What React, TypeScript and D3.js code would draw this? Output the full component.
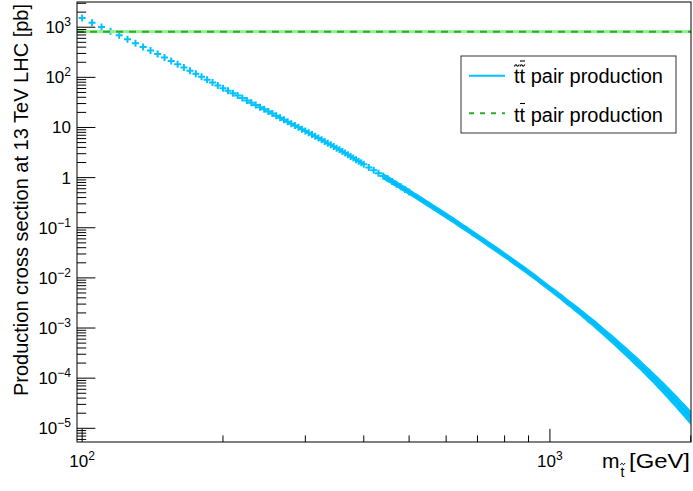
import React, { useEffect } from 'react'
import * as d3 from 'd3'

// stop pair production cross section at 13 TeV [pb]
const STOP_MASS_A = [100, 105, 110, 115, 120, 125, 130, 135, 140, 145, 150, 155, 160, 165, 170, 175, 180, 185, 190, 195,
  200, 205, 210, 215, 220, 225, 230, 235, 240, 245, 250, 255, 260, 265, 270, 275, 280, 285, 290, 295,
  300, 305, 310, 315, 320, 325, 330, 335, 340, 345, 350, 355, 360, 365, 370, 375, 380, 385, 390, 395, 400]
const STOP_XSEC_A = [1521, 1233, 1014, 833, 690, 575, 481, 405, 343, 291, 248, 212, 183, 157, 136, 118, 103, 89.7, 78.5, 68.9,
  60.7, 54.1, 48.3, 43.2, 38.7, 34.7, 31.2, 28.2, 25.4, 23.0, 20.8, 18.9, 17.2, 15.6, 14.3, 13.0, 11.9, 10.9, 10.06, 9.26,
  8.52, 7.85, 7.24, 6.68, 6.17, 5.70, 5.27, 4.87, 4.51, 4.17, 3.86, 3.58, 3.32, 3.08, 2.85, 2.65, 2.46, 2.28, 2.12, 1.97, 1.84]

const STOP_MASS_B = [410, 420, 430, 440, 450, 460, 470, 480, 490, 500, 510, 520, 530, 540, 550,
  560, 570, 580, 590, 600, 610, 620, 630, 640, 650, 660, 670, 680, 690, 700]
const STOP_XSEC_B = [1.60, 1.397, 1.223, 1.073, 0.944, 0.833, 0.737, 0.654, 0.581, 0.519, 0.461, 0.412, 0.368, 0.329, 0.295,
  0.264, 0.238, 0.214, 0.193, 0.175, 0.158, 0.143, 0.129, 0.117, 0.106, 0.0968, 0.0881, 0.0803, 0.0733, 0.0669]

const STOP_MASS_C = [725, 750, 775, 800, 825, 850, 875, 900, 925, 950, 975, 1000, 1025, 1050, 1075, 1100, 1125, 1150, 1175, 1200,
  1225, 1250, 1275, 1300, 1325, 1350, 1375, 1400, 1425, 1450, 1475, 1500, 1525, 1550, 1575, 1600,
  1625, 1650, 1675, 1700, 1725, 1750, 1775, 1800, 1825, 1850, 1875, 1900, 1925, 1950, 1975, 2000]
const STOP_XSEC_C = [0.0537, 0.0431, 0.0349, 0.0283, 0.0232, 0.0190, 0.0156, 0.0129, 0.0107, 0.00884, 0.00737, 0.00615,
  0.00517, 0.00435, 0.00366, 0.00307, 0.00261, 0.00222, 0.00188, 0.00160,
  0.00137, 0.00117, 0.000996, 0.000850, 0.000730, 0.000627, 0.000538, 0.000462, 0.000399, 0.000344, 0.000297, 0.000256,
  0.000222, 0.000193, 0.000167, 0.000145, 0.000126, 0.000110, 0.0000953, 0.0000830, 0.0000724, 0.0000631, 0.0000550,
  0.0000480, 0.0000419, 0.0000366, 0.0000320, 0.0000280, 0.0000245, 0.0000215, 0.0000188, 0.0000165]

// relative error bar size vs mass
const STOP_UNC_MASS = [100, 1000, 1600, 2000]
const STOP_UNC_REL = [0, 0, 0.1, 0.19]

// ttbar cross section [pb] with band
const TTBAR_XSEC = 815
const TTBAR_BAND = [760, 875]

const X_DOMAIN = [97.5, 2002.5]
const Y_DOMAIN = [5.33e-6, 3183]
const X_MAJOR = [100, 1000]
const X_MAJOR_EXP = ['2', '3']
const X_MINOR = [200, 300, 400, 500, 600, 700, 800, 900, 2000]
const Y_MAJOR = [1e-5, 1e-4, 1e-3, 1e-2, 1e-1, 1, 10, 100, 1000]
const Y_MAJOR_LABEL = [['10', '−5'], ['10', '−4'], ['10', '−3'], ['10', '−2'], ['10', '−1'], ['1', ''], ['10', ''], ['10', '2'], ['10', '3']]

const W = 693
const H = 491
const FRAME = { left: 77, right: 691, top: 2, bottom: 442 }
const FONT = '"Liberation Sans", Arial, Helvetica, sans-serif'
const BLUE = '#00c2ff'
const GREEN = '#2aae2a'
const GREEN_BAND = '#94ee94'
const MARKER_HALF = 3.1

function tilde(cx: number, cy: number, w = 5) {
  const h = w / 2
  return `M${cx - h},${cy + 0.9} C${cx - h * 0.5},${cy - 1.3} ${cx - h * 0.2},${cy - 1.1} ${cx},${cy} S${cx + h * 0.5},${cy + 1.3} ${cx + h},${cy - 0.9}`
}

type Pt = { m: number, s: number, e: number }

export default function App() {
  useEffect(() => { document.body.style.margin = '0' }, [])

  const x = d3.scaleLog().domain(X_DOMAIN).range([FRAME.left, FRAME.right])
  const y = d3.scaleLog().domain(Y_DOMAIN).range([FRAME.bottom, FRAME.top])
  const unc = d3.scaleLinear().domain(STOP_UNC_MASS).range(STOP_UNC_REL).clamp(true)

  const mass = [...STOP_MASS_A, ...STOP_MASS_B, ...STOP_MASS_C]
  const xsec = [...STOP_XSEC_A, ...STOP_XSEC_B, ...STOP_XSEC_C]
  const pts: Pt[] = mass.map((m, i) => ({ m, s: xsec[i], e: unc(m) }))

  // separate (+) markers where they are resolved
  let crossPath = ''
  pts.filter(p => p.m <= 500).forEach(p => {
    const px = x(p.m), py = y(p.s)
    crossPath += `M${px - 3.5},${py}H${px + 3.5}M${px},${py - 3.5}V${py + 3.5}`
  })
  // dense region: markers + error bars merge into a band
  const dense = pts.filter(p => p.m >= 440)
  const band = d3.area<Pt>()
    .x(d => x(d.m))
    .y0(d => y(d.s * (1 - d.e)) + MARKER_HALF)
    .y1(d => y(d.s * (1 + d.e)) - MARKER_HALF)
    .curve(d3.curveMonotoneX)(dense)
  const centerLine = d3.line<Pt>().x(d => x(d.m)).y(d => y(d.s)).curve(d3.curveMonotoneX)(pts.filter(p => p.m >= 450))

  const yMinor: number[] = []
  for (let d = -6; d <= 3; d++) {
    for (let k = 2; k <= 9; k++) {
      const v = k * Math.pow(10, d)
      if (v > Y_DOMAIN[0] && v < Y_DOMAIN[1]) yMinor.push(v)
    }
  }

  return (
    <div style={{ position: 'absolute', left: 0, top: 0 }}>
      <svg width={W} height={H} style={{ display: 'block', background: '#fff' }} fontFamily={FONT}>
        <defs>
          <clipPath id="frame-clip">
            <rect x={FRAME.left} y={FRAME.top} width={FRAME.right - FRAME.left} height={FRAME.bottom - FRAME.top} />
          </clipPath>
        </defs>

        <g clipPath="url(#frame-clip)">
          <path d={band || ''} fill={BLUE} stroke="none" />
          <path d={crossPath} stroke={BLUE} strokeWidth={2} fill="none" />
          <path d={centerLine || ''} stroke="#0a9de0" strokeWidth={1} fill="none" opacity={0.5} />

          {/* ttbar */}
          <rect x={FRAME.left} width={FRAME.right - FRAME.left}
            y={y(TTBAR_BAND[1])} height={y(TTBAR_BAND[0]) - y(TTBAR_BAND[1])} fill={GREEN_BAND} />
          <line x1={FRAME.left} x2={FRAME.right} y1={y(TTBAR_XSEC)} y2={y(TTBAR_XSEC)}
            stroke={GREEN} strokeWidth={2} strokeDasharray="7 6" />
        </g>

        {/* frame */}
        <rect x={FRAME.left} y={FRAME.top} width={FRAME.right - FRAME.left} height={FRAME.bottom - FRAME.top}
          fill="none" stroke="#000" strokeWidth={1} />

        {/* y ticks */}
        {Y_MAJOR.map(v => (
          <line key={'ym' + v} x1={FRAME.left} x2={FRAME.left + 18.4} y1={y(v)} y2={y(v)} stroke="#000" />
        ))}
        {yMinor.map(v => (
          <line key={'yn' + v} x1={FRAME.left} x2={FRAME.left + 9.2} y1={y(v)} y2={y(v)} stroke="#000" />
        ))}
        {Y_MAJOR.map((v, i) => (
          <text key={'yl' + v} x={71} y={y(v) + 6} textAnchor="end" fontSize={17}>
            {Y_MAJOR_LABEL[i][0]}
            {Y_MAJOR_LABEL[i][1] && <tspan dy={-7} fontSize={12}>{Y_MAJOR_LABEL[i][1]}</tspan>}
          </text>
        ))}

        {/* x ticks */}
        {X_MAJOR.map(v => (
          <line key={'xm' + v} x1={x(v)} x2={x(v)} y1={FRAME.bottom} y2={FRAME.bottom - 13.2} stroke="#000" />
        ))}
        {X_MINOR.map(v => (
          <line key={'xn' + v} x1={x(v)} x2={x(v)} y1={FRAME.bottom} y2={FRAME.bottom - 6.6} stroke="#000" />
        ))}
        {X_MAJOR.map((v, i) => (
          <text key={'xl' + v} x={x(v)} y={467} textAnchor="middle" fontSize={17}>
            10<tspan dy={-7} fontSize={12}>{X_MAJOR_EXP[i]}</tspan>
          </text>
        ))}

        {/* axis titles */}
        <text transform={`translate(28,4) rotate(-90)`} textAnchor="end" fontSize={20}>
          Production cross section at 13 TeV LHC [pb]
        </text>
        <text x={602} y={468} fontSize={21}>m</text>
        <text x={620.5} y={477} fontSize={14}>t</text>
        <path d={tilde(622.7, 464, 4.5)} stroke="#000" strokeWidth={1} fill="none" />
        <text x={690} y={468} textAnchor="end" fontSize={21} textLength={61} lengthAdjust="spacingAndGlyphs">[GeV]</text>

        {/* legend */}
        <rect x={461} y={56} width={215} height={77} fill="#fff" stroke="#333" strokeWidth={1} />
        <line x1={469} x2={505} y1={75.7} y2={75.7} stroke={BLUE} strokeWidth={2} />
        <text x={514} y={83} fontSize={20}>tt pair production</text>
        <path d={tilde(516.8, 65.5)} stroke="#000" strokeWidth={1.1} fill="none" />
        <path d={tilde(522.4, 65.5)} stroke="#000" strokeWidth={1.1} fill="none" />
        <line x1={520} x2={525} y1={61} y2={61} stroke="#000" strokeWidth={1.1} />

        <line x1={469} x2={505} y1={113.3} y2={113.3} stroke={GREEN} strokeWidth={2} strokeDasharray="5 6" />
        <text x={514} y={121.5} fontSize={20}>tt pair production</text>
        <line x1={520} x2={525} y1={103.5} y2={103.5} stroke="#000" strokeWidth={1.1} />
      </svg>
    </div>
  )
}
